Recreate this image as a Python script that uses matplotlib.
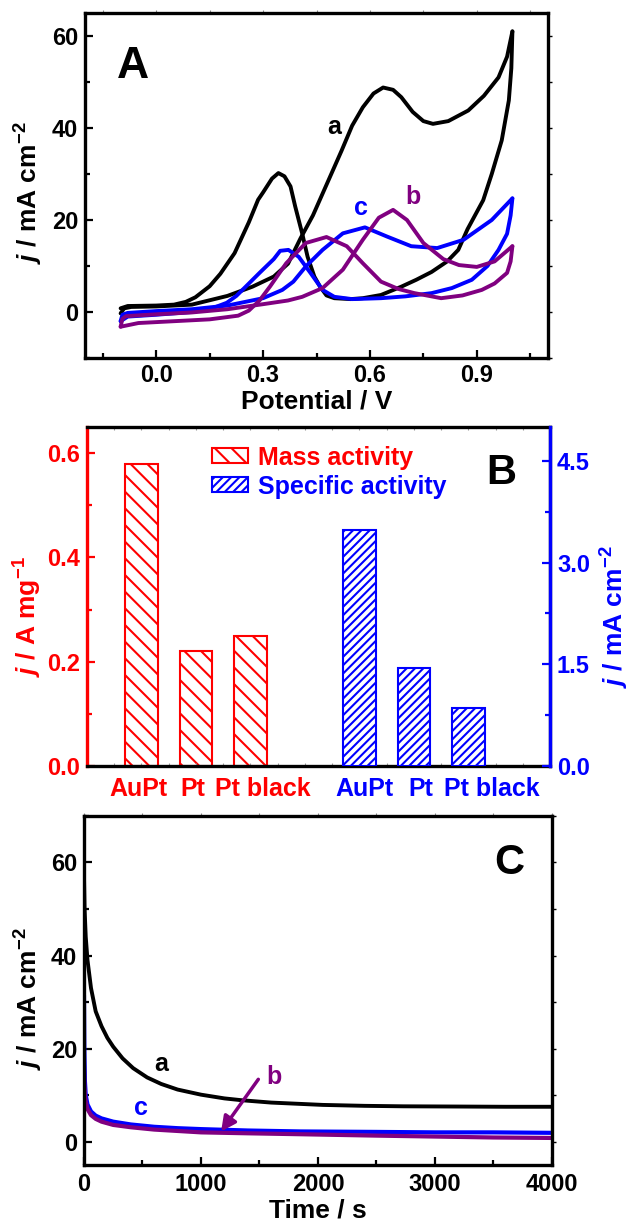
import matplotlib
matplotlib.use("Agg")
import matplotlib.pyplot as plt
from matplotlib.ticker import MultipleLocator
import matplotlib.transforms as mtransforms

plt.rcParams['font.family'] = ['Liberation Sans', 'DejaVu Sans']
plt.rcParams['font.weight'] = 'bold'
plt.rcParams['axes.labelweight'] = 'bold'
plt.rcParams['mathtext.fontset'] = 'custom'
plt.rcParams['mathtext.rm'] = 'Liberation Sans:bold'
plt.rcParams['mathtext.it'] = 'Liberation Sans:italic:bold'
plt.rcParams['mathtext.bf'] = 'Liberation Sans:bold'
plt.rcParams['mathtext.default'] = 'rm'
plt.rcParams['hatch.linewidth'] = 1.5

PURPLE = '#800080'

# ---------------- panel A : cyclic voltammograms ----------------
# curve a (black) forward / reverse scans
a_fwd_E = [-0.1, -0.09, -0.07, 0.0, 0.1, 0.2, 0.27, 0.33, 0.37, 0.405, 0.44, 0.48, 0.52, 0.55,
           0.58, 0.61, 0.637, 0.665, 0.688, 0.72, 0.75, 0.777, 0.82, 0.876, 0.92, 0.961, 0.985, 1.0]
a_fwd_j = [-0.3, 0.8, 1.1, 1.2, 1.6, 3.5, 5.5, 7.7, 10.5, 16.0, 21.0, 28.0, 35.0, 40.5,
           44.5, 47.5, 48.8, 48.3, 46.7, 43.5, 41.5, 40.9, 41.5, 43.8, 47.0, 51.0, 55.5, 61.0]
a_rev_E = [1.0, 0.997, 0.99, 0.97, 0.942, 0.918, 0.874, 0.848, 0.817, 0.773, 0.73, 0.688, 0.631,
           0.58, 0.546, 0.5, 0.478, 0.46, 0.444, 0.425, 0.41, 0.39, 0.377, 0.36, 0.343, 0.325,
           0.3, 0.286, 0.26, 0.22, 0.18, 0.15, 0.11, 0.083, 0.05, 0.0, -0.08, -0.1]
a_rev_j = [61.0, 53.0, 46.0, 37.3, 30.0, 24.3, 18.0, 13.5, 11.0, 8.7, 7.0, 5.5, 3.7,
           3.0, 2.8, 3.0, 3.6, 5.5, 7.7, 12.0, 17.0, 23.0, 27.3, 29.5, 30.2, 29.0,
           26.0, 24.4, 19.5, 12.8, 8.3, 5.6, 3.2, 2.2, 1.6, 1.4, 1.3, 0.8]

# curve c (blue)
c_fwd_E = [-0.1, -0.095, -0.08, 0.0, 0.1, 0.2, 0.3, 0.354, 0.385, 0.42, 0.467, 0.524, 0.586,
           0.648, 0.716, 0.789, 0.863, 0.942, 1.0]
c_fwd_j = [-2.0, -0.6, -0.2, 0.2, 0.6, 1.4, 3.0, 4.8, 6.6, 9.9, 13.5, 17.1, 18.4,
           16.4, 14.3, 13.9, 15.7, 20.0, 24.7]
c_rev_E = [1.0, 0.995, 0.985, 0.961, 0.93, 0.886, 0.83, 0.773, 0.7, 0.631, 0.55, 0.5, 0.467,
           0.433, 0.4, 0.371, 0.348, 0.33, 0.29, 0.255, 0.225, 0.198, 0.15, 0.1, 0.0, -0.08, -0.1]
c_rev_j = [24.7, 21.0, 17.0, 13.5, 10.0, 7.0, 5.2, 4.1, 3.4, 3.0, 2.8, 3.3, 4.8,
           8.5, 12.0, 13.5, 13.3, 11.5, 8.5, 5.8, 3.5, 2.0, 0.6, 0.0, -0.6, -1.0, -2.0]

# curve b (purple)
b_fwd_E = [-0.1, -0.095, -0.085, 0.0, 0.1, 0.2, 0.3, 0.37, 0.41, 0.467, 0.524, 0.58, 0.625,
           0.665, 0.704, 0.75, 0.806, 0.85, 0.9, 0.95, 1.0]
b_fwd_j = [-3.2, -1.5, -0.9, -0.5, -0.1, 0.6, 1.7, 2.5, 3.3, 5.2, 9.2, 15.7, 20.5,
           22.2, 20.0, 15.0, 11.5, 10.2, 9.8, 11.0, 14.3]
b_rev_E = [1.0, 0.995, 0.985, 0.95, 0.914, 0.86, 0.8, 0.725, 0.68, 0.631, 0.58, 0.535, 0.478,
           0.42, 0.365, 0.32, 0.29, 0.26, 0.23, 0.15, 0.05, -0.05, -0.1]
b_rev_j = [14.3, 11.0, 8.5, 6.2, 4.8, 3.6, 3.0, 4.1, 5.0, 6.6, 10.6, 14.3, 16.3,
           15.0, 10.6, 5.6, 2.5, 0.3, -0.8, -1.6, -2.0, -2.4, -3.2]

# ---------------- panel B : activities ----------------
catalysts = ['AuPt', 'Pt', 'Pt black']
mass_activity = [0.58, 0.22, 0.25]        # A mg-1
specific_activity = [3.48, 1.45, 0.86]    # mA cm-2

# ---------------- panel C : chronoamperometry ----------------
ta = [0, 5, 15, 30, 60, 100, 150, 200, 250, 330, 420, 540, 660, 800, 1000, 1200, 1350, 1600,
      2040, 2400, 2730, 3200, 3600, 4000]
ja = [57, 50, 44, 39, 33, 28, 24.8, 22.3, 20.4, 17.9, 15.8, 13.8, 12.4, 11.2, 10.1, 9.3, 8.9,
      8.4, 7.9, 7.7, 7.6, 7.55, 7.5, 7.5]
tbc = [0, 3, 8, 15, 30, 60, 100, 150, 250, 400, 600, 800, 1000, 1400, 1850, 2500, 3000, 3500, 4000]
jc = [31, 20, 13, 10, 8, 6.5, 5.6, 5.0, 4.3, 3.7, 3.2, 2.9, 2.7, 2.4, 2.2, 2.1, 2.0, 2.0, 1.9]
jb = [16, 12, 10, 8.5, 7, 5.7, 4.9, 4.3, 3.6, 3.1, 2.6, 2.3, 2.0, 1.8, 1.6, 1.3, 1.1, 0.9, 0.8]

JLABEL = r'$\mathit{j}$ / mA cm$^{-2}$'
TICK_FS = 17
LAB_FS = 19


def frame(ax):
    for s in ax.spines.values():
        s.set_linewidth(2.4)
    ax.tick_params(which='both', direction='in', width=1.6, labelsize=TICK_FS,
                   top=False, right=False)
    ax.tick_params(which='major', length=6)
    ax.tick_params(which='minor', length=3.5)
    ax.tick_params(axis='x', pad=4.5)
    ax.tick_params(axis='y', pad=5)


def side_ticks(ax, xstep, ystep):
    # small outward ticks on the right and top borders
    sy = ax.secondary_yaxis('right')
    sy.yaxis.set_major_locator(MultipleLocator(ystep))
    sy.tick_params(direction='out', length=3, width=1.0, labelright=False)
    sy.spines['right'].set_visible(False)
    sx = ax.secondary_xaxis('top')
    sx.xaxis.set_major_locator(MultipleLocator(xstep))
    sx.tick_params(direction='out', length=2, width=0.8, labeltop=False, color='#888888')
    sx.spines['top'].set_visible(False)


fig = plt.figure(figsize=(6.31, 12.26), dpi=100)

# ===== A =====
axA = fig.add_axes([0.1347, 0.708, 0.7338, 0.2814])
kw = dict(lw=2.8, solid_joinstyle='round', solid_capstyle='round')
axA.plot(a_fwd_E, a_fwd_j, color='black', **kw)
axA.plot(a_rev_E, a_rev_j, color='black', **kw)
axA.plot(c_fwd_E, c_fwd_j, color='blue', **kw)
axA.plot(c_rev_E, c_rev_j, color='blue', **kw)
axA.plot(b_fwd_E, b_fwd_j, color=PURPLE, **kw)
axA.plot(b_rev_E, b_rev_j, color=PURPLE, **kw)
axA.set_xlim(-0.2, 1.1)
axA.set_ylim(-10, 65)
axA.xaxis.set_major_locator(MultipleLocator(0.3))
axA.xaxis.set_minor_locator(MultipleLocator(0.15))
axA.yaxis.set_major_locator(MultipleLocator(20))
axA.yaxis.set_minor_locator(MultipleLocator(10))
axA.xaxis.set_major_formatter(plt.FuncFormatter(lambda v, p: f'{v:.1f}'))
frame(axA)
side_ticks(axA, 0.15, 10)
axA.set_xlabel('Potential / V', fontsize=LAB_FS)
axA.set_ylabel(JLABEL, fontsize=LAB_FS)
axA.xaxis.set_label_coords(0.5, -0.09)
axA.yaxis.set_label_coords(-0.086, 0.478)
axA.text(-0.065, 53.3, 'A', fontsize=32, fontweight='bold', ha='center', va='center')
axA.text(0.50, 40.3, 'a', fontsize=18, fontweight='bold', color='black', ha='center', va='center')
axA.text(0.574, 22.6, 'c', fontsize=18, fontweight='bold', color='blue', ha='center', va='center')
axA.text(0.721, 25.1, 'b', fontsize=18, fontweight='bold', color=PURPLE, ha='center', va='center')

# ===== B =====
axB = fig.add_axes([0.1379, 0.3752, 0.7338, 0.2765])
axB2 = axB.twinx()
pos_red = [1, 2, 3]
pos_blue = [5, 6, 7]
bars_r = axB.bar(pos_red, mass_activity, width=0.6, facecolor='white', edgecolor='red',
                 hatch='\\\\', linewidth=1.5)
bars_b = axB2.bar(pos_blue, specific_activity, width=0.6, facecolor='white', edgecolor='blue',
                  hatch='////', linewidth=1.5)
axB.set_xlim(0, 8.5)
axB.set_ylim(0, 0.65)
axB2.set_ylim(0, 5.0)
axB.yaxis.set_major_locator(MultipleLocator(0.2))
axB.yaxis.set_minor_locator(MultipleLocator(0.1))
axB.yaxis.set_major_formatter(plt.FuncFormatter(lambda v, p: f'{v:.1f}'))
axB2.yaxis.set_major_locator(MultipleLocator(1.5))
axB2.yaxis.set_minor_locator(MultipleLocator(0.75))
axB2.yaxis.set_major_formatter(plt.FuncFormatter(lambda v, p: f'{v:.1f}'))
frame(axB)
for s in axB2.spines.values():
    s.set_linewidth(2.4)
axB2.spines['left'].set_visible(False)
axB2.spines['top'].set_visible(False)
axB2.spines['bottom'].set_visible(False)
axB.spines['left'].set_color('red')
axB2.spines['right'].set_color('blue')
axB.tick_params(axis='y', which='both', colors='red')
axB2.tick_params(axis='y', which='both', direction='in', colors='blue', width=1.6,
                 labelsize=TICK_FS, pad=5)
axB2.tick_params(axis='y', which='major', length=6)
axB2.tick_params(axis='y', which='minor', length=3.5)
axB.xaxis.set_minor_locator(MultipleLocator(0.5))
axB.tick_params(axis='x', which='both', length=2, width=0.8, color='#999999',
                labelbottom=False, top=True)
axB.set_ylabel(r'$\mathit{j}$ / A mg$^{-1}$', fontsize=LAB_FS, color='red')
axB.yaxis.set_label_coords(-0.093, 0.44)
axB2.set_ylabel(JLABEL, fontsize=LAB_FS, color='blue')
axB2.yaxis.set_label_coords(1.105, 0.44)

lab_red_x = [0.94, 1.95, 3.22]
lab_blue_x = [5.09, 6.12, 7.43]
trB = mtransforms.blended_transform_factory(axB.transData, axB.transAxes)
for x, s in zip(lab_red_x, catalysts):
    axB.text(x, -0.068, s, transform=trB, fontsize=18, fontweight='bold', color='red',
             ha='center', va='center')
for x, s in zip(lab_blue_x, catalysts):
    axB.text(x, -0.068, s, transform=trB, fontsize=18, fontweight='bold', color='blue',
             ha='center', va='center')

leg = axB2.legend([bars_r, bars_b], ['Mass activity', 'Specific activity'],
                  loc='upper left', bbox_to_anchor=(0.27, 0.945), frameon=False,
                  fontsize=18, handlelength=1.45, handleheight=0.55, handletextpad=0.4,
                  labelspacing=0.2, borderpad=0, borderaxespad=0,
                  labelcolor=['red', 'blue'])
for t in leg.get_texts():
    t.set_fontweight('bold')
axB.text(0.894, 0.864, 'B', transform=axB.transAxes, fontsize=30, fontweight='bold',
         ha='center', va='center')

# ===== C =====
axC = fig.add_axes([0.1331, 0.0498, 0.7417, 0.2847])
axC.plot(ta, ja, color='black', lw=2.8, solid_joinstyle='round')
axC.plot(tbc, jc, color='blue', lw=3.0, solid_joinstyle='round')
axC.plot(tbc, jb, color=PURPLE, lw=3.0, solid_joinstyle='round')
axC.set_xlim(0, 4000)
axC.set_ylim(-5, 70)
axC.xaxis.set_major_locator(MultipleLocator(1000))
axC.xaxis.set_minor_locator(MultipleLocator(500))
axC.yaxis.set_major_locator(MultipleLocator(20))
axC.yaxis.set_minor_locator(MultipleLocator(10))
frame(axC)
axC.tick_params(axis='x', pad=6)
side_ticks(axC, 500, 10)
axC.set_xlabel('Time / s', fontsize=LAB_FS)
axC.set_ylabel(JLABEL, fontsize=LAB_FS)
axC.xaxis.set_label_coords(0.5, -0.095)
axC.yaxis.set_label_coords(-0.083, 0.476)
axC.text(3632, 59.8, 'C', fontsize=30, fontweight='bold', ha='center', va='center')
axC.text(662, 16.6, 'a', fontsize=18, fontweight='bold', color='black', ha='center', va='center')
axC.text(490, 7.2, 'c', fontsize=18, fontweight='bold', color='blue', ha='center', va='center')
axC.text(1620, 14.0, 'b', fontsize=18, fontweight='bold', color=PURPLE, ha='center', va='center')
axC.annotate('', xy=(1172, 2.2), xytext=(1490, 13.4),
             arrowprops=dict(arrowstyle='-|>', color=PURPLE, lw=2.5, mutation_scale=22,
                             shrinkA=0, shrinkB=0))

fig.savefig('out.png', dpi=100)
